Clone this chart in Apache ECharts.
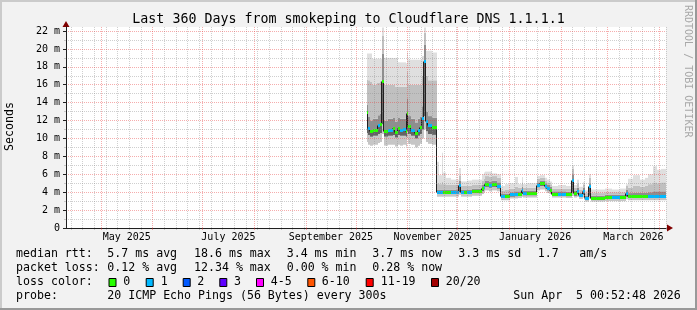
<!DOCTYPE html>
<html>
<head>
<meta charset="utf-8">
<script src="https://cdn.jsdelivr.net/npm/echarts@6/dist/echarts.min.js"></script>
<style>
html,body{margin:0;padding:0;background:#f2f2f2;}
#chart{width:697px;height:310px;}
</style>
</head>
<body>
<div id="chart"></div>
<script>
// ---------- texts ----------
const titleText = 'Last 360 Days from smokeping to Cloudflare DNS 1.1.1.1';
const axisTitle = 'Seconds';
const watermark = 'RRDTOOL / TOBI OETIKER';

// ---------- axes ----------
const rangeStart = Date.UTC(2025, 3, 10, 0, 52, 48);
const rangeEnd = Date.UTC(2026, 3, 5, 0, 52, 48);
const dayZero = Date.UTC(2025, 9, 1);   // segment times are days after 2025-10-01
const yMax = 22.45;                      // ms
const yMajorTicks = [0, 2, 4, 6, 8, 10, 12, 14, 16, 18, 20, 22];
const yMinorTicks = [1, 3, 5, 7, 9, 11, 13, 15, 17, 19, 21];
const xLabelMonths = [[2025, 4], [2025, 6], [2025, 8], [2025, 10], [2026, 0], [2026, 2]];
const monthNames = ['January','February','March','April','May','June','July','August','September','October','November','December'];

// ---------- data ----------
const segStart = [6.4,7.3,8.5,9.7,10.4,12.7,13.4,14.5,15.7,16.6,19.3,22.0,23.5,25.0,26.5,28.3,29.8,30.7,31.4,33.1,35.2,37.4,38.5,39.7,40.9,41.9,43.4,45.4,
  48.4,49.9,51.4,52.4,54.1,57.1,61.7,62.8,64.9,66.7,69.4,75.5,76.6,77.5,79.9,81.7,84.7,86.8,89.5,92.5,95.2,97.3,99.4,100.3,102.7,108.7,110.5,113.5,114.7,116.5,
  117.7,121.3,126.1,129.4,130.6,132.7,133.9,136.0,137.2,139.9,141.1,149.5,153.7,158.5,162.1,163.1,166.3,170.5,173.5,175.3,178.3,180.7,183.1];
const segLastEnd = 186.0;
const medianMs = [13.0,11.2,10.8,10.8,11.0,11.0,11.5,11.6,16.4,10.8,11.0,11.2,10.7,11.2,11.0,11.05,10.8,12.8,11.4,11.0,10.6,11.0,11.3,12.3,18.6,11.9,11.5,11.3,
  4.0,4.0,4.0,4.0,4.0,4.0,4.85,4.0,4.0,4.0,4.1,4.45,4.6,4.95,4.8,4.95,4.7,3.55,3.6,3.75,3.8,3.85,4.2,3.9,3.9,4.85,5.0,4.7,4.45,4.3,
  3.85,3.85,3.8,5.4,3.9,4.1,3.7,4.1,3.35,4.65,3.35,3.45,3.45,3.45,3.9,3.6,3.6,3.6,3.55,3.6,3.6,3.6,3.6];
const lossClass = [0,1,0,0,0,0,1,0,0,0,1,0,0,0,1,1,0,0,0,1,0,1,0,1,1,1,1,0,
  1,1,1,0,0,1,1,1,0,1,0,0,1,0,1,0,1,1,0,1,1,0,1,1,0,1,0,1,1,0,
  0,1,0,1,0,1,1,1,1,1,0,0,1,0,1,0,0,0,0,1,1,1,1];
const smokeMin = [9.6,9.3,9.2,9.2,9.3,9.3,9.5,9.6,10.5,9.2,9.3,9.3,9.1,9.3,9.2,9.3,9.1,10.0,9.4,9.3,9.0,9.2,9.4,10.0,11.0,9.6,9.4,9.3,
  3.5,3.5,3.5,3.5,3.5,3.5,3.7,3.5,3.5,3.5,3.6,3.8,4.0,4.2,4.1,4.2,4.1,3.1,3.1,3.3,3.3,3.35,3.5,3.4,3.4,4.2,4.3,4.1,3.9,3.8,
  3.4,3.4,3.35,3.6,3.4,3.5,3.25,3.4,2.95,3.3,2.95,3.0,3.0,3.0,3.2,3.1,3.1,3.1,3.1,3.1,3.1,3.1,3.1];
const smokeLow = [10.6,10.4,10.2,10.2,10.3,10.3,10.5,10.6,11.6,10.2,10.3,10.4,10.1,10.4,10.3,10.3,10.2,10.8,10.5,10.3,10.0,10.3,10.5,11.0,12.5,10.8,10.5,10.4,
  3.8,3.8,3.8,3.8,3.8,3.8,4.0,3.8,3.8,3.8,3.9,4.1,4.3,4.6,4.5,4.6,4.4,3.35,3.35,3.5,3.55,3.6,3.8,3.65,3.65,4.55,4.7,4.4,4.2,4.05,
  3.6,3.6,3.55,4.0,3.6,3.8,3.5,3.7,3.15,3.6,3.15,3.25,3.25,3.25,3.5,3.35,3.35,3.35,3.35,3.35,3.4,3.4,3.4];
const smokeUp = [13.8,12.4,12.0,12.0,12.2,12.2,12.6,12.8,19.5,12.0,12.2,12.3,11.9,12.3,12.2,12.2,12.0,14.5,12.5,12.2,11.8,12.2,12.4,13.6,20.5,13.0,12.5,12.3,
  4.3,4.3,4.3,4.3,4.3,4.3,5.3,4.3,4.3,4.3,4.4,4.8,5.0,5.3,5.2,5.3,5.1,3.8,3.85,4.0,4.1,4.1,4.6,4.15,4.15,5.1,5.3,5.0,4.8,4.6,
  4.1,4.1,4.05,6.0,4.15,4.5,3.95,4.5,3.6,5.0,3.6,3.7,3.7,3.7,4.3,3.9,3.95,3.95,3.95,4.0,4.1,4.1,4.1];
const smokeHigh = [16.6,16.5,16.3,16.0,16.0,16.2,16.2,16.4,21.5,16.0,16.0,16.0,15.8,15.8,15.8,15.8,15.8,17.5,16.0,16.0,16.0,16.0,16.0,17.0,21.8,17.0,16.5,16.5,
  5.0,4.9,5.2,4.9,4.8,4.8,5.9,4.7,4.7,4.7,4.8,5.3,5.5,5.8,5.7,5.8,5.6,4.2,4.3,4.4,4.6,4.5,5.1,4.5,4.5,5.5,5.6,5.3,5.1,4.9,
  4.4,4.4,4.4,6.6,4.5,5.0,4.3,4.9,3.9,5.6,3.9,4.0,4.0,4.0,4.7,4.5,4.7,4.6,4.7,4.9,5.1,5.0,5.1];
const smokeMax = [19.5,19.5,19.5,18.9,18.9,18.9,18.9,18.9,22.4,19.0,19.0,19.0,19.0,18.5,18.5,18.5,18.4,19.6,18.8,18.8,18.8,18.8,18.8,19.2,22.4,19.8,19.8,19.6,
  7.4,5.9,8.4,6.2,5.6,5.4,6.7,5.2,5.2,5.3,5.4,6.0,6.2,6.3,6.3,6.1,6.0,4.7,4.9,5.0,5.7,4.9,5.7,4.9,5.0,5.8,5.9,5.6,5.4,5.2,
  4.7,4.8,4.7,7.0,4.8,5.4,4.6,5.1,4.2,6.0,4.3,4.4,4.3,4.4,4.9,5.5,5.9,5.4,5.6,6.0,6.9,6.5,6.6];

// ---------- legend ----------
const lossColors = ['#26ff00','#00b8ff','#0059ff','#5e00ff','#ff00ff','#ff5500','#ff0000','#a10000'];
const lossLabels = ['0','1','2','3','4-5','6-10','11-19','20/20'];
const statRows = [
  ['median rtt:', '5.7 ms avg', '18.6 ms max', '3.4 ms min', '3.7 ms now', '3.3 ms sd', '1.7', 'am/s'],
  ['packet loss:', '0.12 % avg', '12.34 % max', '0.00 % min', '0.28 % now'],
  ['loss color:'],
  ['probe:', '20 ICMP Echo Pings (56 Bytes) every 300s', 'Sun Apr  5 00:52:48 2026']
];

// ---------- layout / style ----------
const statColX = [[16,107.3,194,286.7,372.3,458.3,537.7,579.3],[16,107.3,194,286.7,372.3],[16],[16,107.3,513.3]];
const statRowY = [254.2, 268.2, 282.2, 296.2];
const lossBoxX = [108.5,145.7,182.7,219.3,256,307.3,365.7,431];
const lossLabelX = [123.3,160.7,197.3,234,270.7,321.7,380.7,445.7];
const MONO = '"DejaVu Sans Mono", monospace';
const MGRID = 'rgba(230,60,60,0.42)';
const GRID = 'rgba(140,140,140,0.42)';
const smokeColors = ['#c6c6c6', '#646464', '#8e8e8e', '#c0c0c0', '#dfdfdf'];

const DAY = 86400000;
const tOf = d => dayZero + d * DAY;

const monthStarts = [];
for (let m = 4; m <= 15; m++) monthStarts.push(Date.UTC(2025, m, 1));
const labelValues = xLabelMonths.map(([y, m]) => (Date.UTC(y, m, 1) + Date.UTC(y, m + 1, 1)) / 2);
const weekStarts = [];
for (let t = Date.UTC(2025, 3, 13); t < rangeEnd; t += 7 * DAY) {
  if (monthStarts.indexOf(t) < 0) weekStarts.push(t);
}

const segData = segStart.map((s, i) => {
  const e = i + 1 < segStart.length ? segStart[i + 1] : segLastEnd;
  const nextMed = i + 1 < segStart.length ? medianMs[i + 1] : medianMs[i];
  return [tOf(s), tOf(e), smokeMin[i], smokeLow[i], medianMs[i], smokeUp[i], smokeHigh[i], smokeMax[i], lossClass[i], nextMed];
});

function smokeItem(params, api) {
  const x0 = Math.round(api.coord([api.value(0), 0])[0]);
  const x1 = Math.round(api.coord([api.value(1), 0])[0]);
  const v = [api.value(2), api.value(3), api.value(4), api.value(5), api.value(6), api.value(7)];
  const children = [];
  for (let k = 0; k < 5; k++) {
    const yTop = api.coord([api.value(0), v[k + 1]])[1];
    const yBot = api.coord([api.value(0), v[k]])[1];
    children.push({ type: 'rect', shape: { x: x0, y: yTop, width: Math.max(1, x1 - x0), height: yBot - yTop },
      style: { fill: smokeColors[k] } });
  }
  return { type: 'group', children };
}
function medianLineItem(params, api) {
  const x0 = Math.round(api.coord([api.value(0), 0])[0]);
  const x1 = Math.round(api.coord([api.value(1), 0])[0]);
  const y = Math.round(api.coord([api.value(0), api.value(4)])[1]) + 0.5;
  const yn = Math.round(api.coord([api.value(0), api.value(9)])[1]) + 0.5;
  return { type: 'polyline', shape: { points: [[x0, y], [x1 - 0.5, y], [x1 - 0.5, yn]] },
    style: { stroke: '#202020', lineWidth: 1, fill: null } };
}
function blockItem(params, api) {
  const x0 = Math.round(api.coord([api.value(0), 0])[0]);
  const x1 = Math.round(api.coord([api.value(1), 0])[0]);
  const yc = Math.round(api.coord([api.value(0), api.value(4)])[1]);
  return { type: 'rect', shape: { x: x0, y: yc - 1, width: Math.max(1, x1 - x0), height: 3 },
    style: { fill: lossColors[api.value(8)] } };
}

// ---------- graphic texts ----------
const g = [];
g.push({ type: 'rect', z: 100, shape: { x: 0, y: 0, width: 697, height: 2 }, style: { fill: '#cbcbcb' } });
g.push({ type: 'rect', z: 100, shape: { x: 0, y: 0, width: 2, height: 310 }, style: { fill: '#cbcbcb' } });
g.push({ type: 'rect', z: 100, shape: { x: 0, y: 308, width: 697, height: 2 }, style: { fill: '#999999' } });
g.push({ type: 'rect', z: 100, shape: { x: 695, y: 0, width: 2, height: 310 }, style: { fill: '#999999' } });
g.push({ type: 'text', z: 100, x: 348.5, y: 19.3, style: { text: titleText, font: '13.3px ' + MONO, fill: '#000',
  align: 'center', verticalAlign: 'middle', textAlign: 'center', textVerticalAlign: 'middle' } });
g.push({ type: 'text', z: 100, x: 10, y: 126.5, rotation: Math.PI / 2, style: { text: axisTitle, font: '11.6px ' + MONO, fill: '#000',
  align: 'center', verticalAlign: 'middle', textAlign: 'center', textVerticalAlign: 'middle' } });
g.push({ type: 'text', z: 100, x: 687.5, y: 5, rotation: -Math.PI / 2, style: { text: watermark, font: '10px ' + MONO, fill: '#a8a8a8',
  align: 'left', verticalAlign: 'middle', textAlign: 'left', textVerticalAlign: 'middle' } });
statRows.forEach((row, r) => row.forEach((txt, c) => {
  g.push({ type: 'text', z: 100, x: statColX[r][c], y: statRowY[r], style: { text: txt, font: '11.6px ' + MONO, fill: '#000',
    align: 'left', verticalAlign: 'middle', textAlign: 'left', textVerticalAlign: 'middle' } });
}));
lossLabels.forEach((lab, i) => {
  g.push({ type: 'rect', z: 100, shape: { x: lossBoxX[i] + 0.5, y: 278.5, width: 7, height: 8 },
    style: { fill: lossColors[i], stroke: '#000', lineWidth: 1 } });
  g.push({ type: 'text', z: 100, x: lossLabelX[i], y: statRowY[2], style: { text: lab, font: '11.6px ' + MONO, fill: '#000',
    align: 'left', verticalAlign: 'middle', textAlign: 'left', textVerticalAlign: 'middle' } });
});

const chart = echarts.init(document.getElementById('chart'), null, { renderer: 'canvas' });
chart.setOption({
  animation: false,
  backgroundColor: '#f2f2f2',
  grid: { left: 66, top: 27, width: 600, height: 201, show: true, backgroundColor: '#ffffff', borderWidth: 0,
    containLabel: false, outerBoundsMode: 'none' },
  xAxis: [
    { type: 'value', min: rangeStart, max: rangeEnd, position: 'bottom', z: 10,
      axisLine: { show: true, onZero: false, lineStyle: { color: '#202020', width: 1 } },
      axisTick: { show: true, customValues: monthStarts, length: 2, lineStyle: { color: MGRID } },
      axisLabel: { show: true, customValues: labelValues, fontFamily: MONO, fontSize: 10, color: '#000', margin: 4,
        formatter: v => { const d = new Date(v); return monthNames[d.getUTCMonth()] + ' ' + d.getUTCFullYear(); } },
      splitLine: { show: true, lineStyle: { color: MGRID, type: [1, 1], width: 1 } },
      minorTick: { show: false }, minorSplitLine: { show: false } },
    { type: 'value', min: rangeStart, max: rangeEnd, position: 'bottom', z: 9,
      axisLine: { show: true, onZero: false, symbol: ['none', 'triangle'], symbolSize: [7, 6], symbolOffset: [0, 4],
        lineStyle: { color: '#800000', width: 0 } },
      axisTick: { show: true, customValues: weekStarts, length: 2, lineStyle: { color: GRID } },
      axisLabel: { show: false },
      splitLine: { show: true, lineStyle: { color: GRID, type: [1, 1], width: 1 } } }
  ],
  yAxis: [
    { type: 'value', min: 0, max: yMax, position: 'left', z: 10,
      axisLine: { show: true, onZero: false, lineStyle: { color: '#202020', width: 1 } },
      axisTick: { show: true, customValues: yMajorTicks, length: 3, lineStyle: { color: '#202020' } },
      axisLabel: { show: true, customValues: yMajorTicks, fontFamily: MONO, fontSize: 10, color: '#000', margin: 6,
        formatter: v => v === 0 ? '0' : v + ' m' },
      splitLine: { show: true, lineStyle: { color: MGRID, type: [1, 1], width: 1 } } },
    { type: 'value', min: 0, max: yMax, position: 'left', z: 9,
      axisLine: { show: true, onZero: false, symbol: ['none', 'triangle'], symbolSize: [7, 6], symbolOffset: [0, 3],
        lineStyle: { color: '#800000', width: 0 } },
      axisTick: { show: true, customValues: yMinorTicks, length: 2, lineStyle: { color: GRID } },
      axisLabel: { show: false },
      splitLine: { show: true, lineStyle: { color: GRID, type: [1, 1], width: 1 } } }
  ],
  series: [
    { type: 'custom', name: 'smoke', xAxisIndex: 0, yAxisIndex: 0, z: 2, silent: true,
      renderItem: smokeItem, data: segData, encode: { x: [0, 1], y: [2, 7] } },
    { type: 'custom', name: 'median', xAxisIndex: 0, yAxisIndex: 0, z: 3, silent: true,
      renderItem: medianLineItem, data: segData, encode: { x: [0, 1], y: [4] } },
    { type: 'custom', name: 'loss', xAxisIndex: 0, yAxisIndex: 0, z: 4, silent: true,
      renderItem: blockItem, data: segData, encode: { x: [0, 1], y: [4] } }
  ],
  graphic: { elements: g }
});
</script>
</body>
</html>
